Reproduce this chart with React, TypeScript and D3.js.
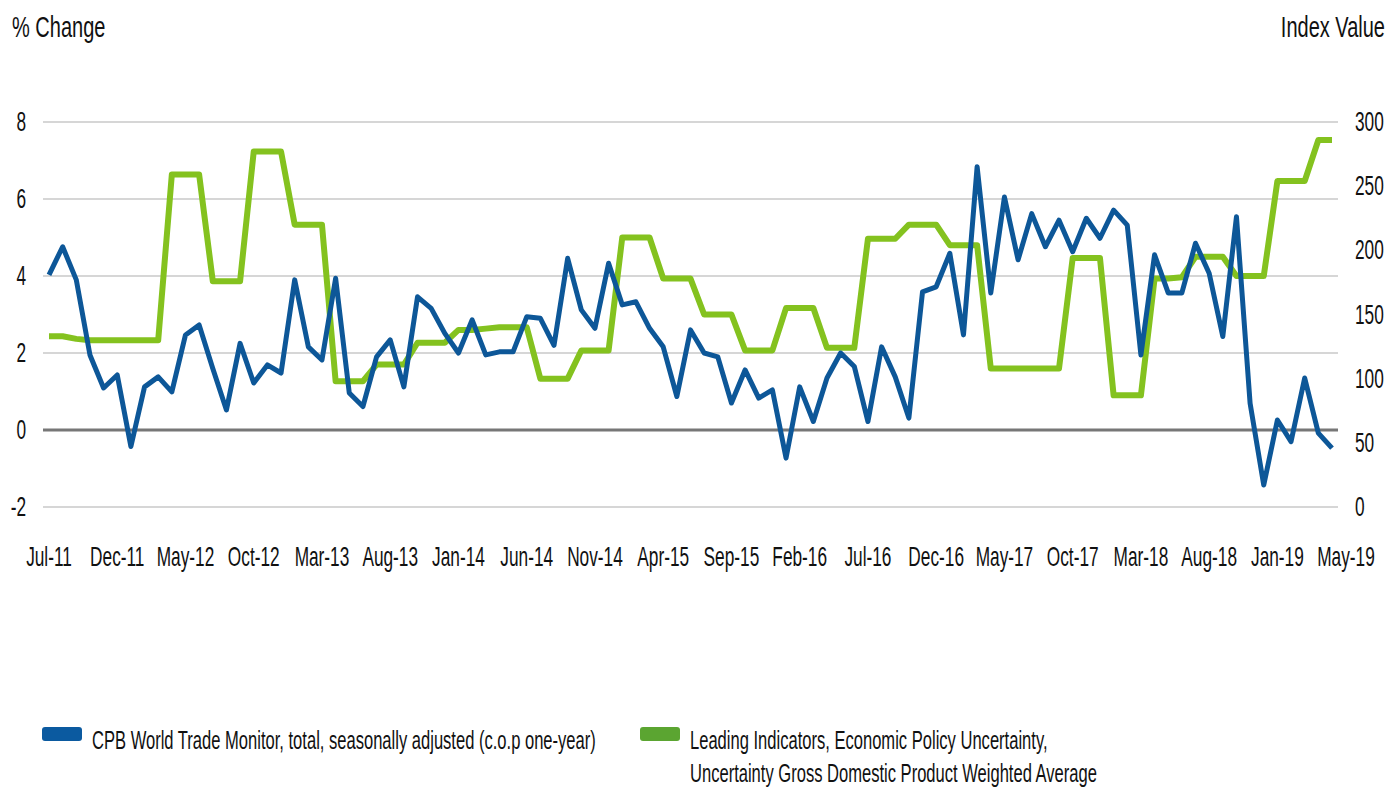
import { useEffect, useRef } from 'react';
import * as d3 from 'd3';

// monthly, Jul-11 .. May-19
const tradeMonitor = [
  4.03, 4.76, 3.9, 1.95, 1.09, 1.43, -0.43, 1.12, 1.38, 0.99,
  2.47, 2.73, 1.6, 0.52, 2.25, 1.22, 1.69, 1.48, 3.9, 2.16,
  1.82, 3.94, 0.96, 0.61, 1.9, 2.34, 1.12, 3.46, 3.16, 2.51,
  2.0, 2.86, 1.95, 2.03, 2.03, 2.94, 2.9, 2.2, 4.46, 3.12,
  2.64, 4.33, 3.25, 3.33, 2.64, 2.16, 0.87, 2.6, 2.0, 1.9,
  0.7, 1.56, 0.83, 1.04, -0.73, 1.12, 0.22, 1.35, 2.0, 1.65,
  0.22, 2.16, 1.38, 0.31, 3.59, 3.72, 4.59, 2.47, 6.84, 3.56,
  6.05, 4.42, 5.62, 4.76, 5.45, 4.63, 5.5, 4.98, 5.71, 5.32,
  1.95, 4.55, 3.56, 3.56, 4.85, 4.07, 2.43, 5.54, 0.69, -1.43,
  0.26, -0.3, 1.35, -0.08, -0.47,
];

const uncertainty = [
  133, 133, 131, 130, 130, 130, 130, 130, 130, 259,
  259, 259, 176, 176, 176, 277, 277, 277, 220, 220,
  220, 98, 98, 98, 111, 111, 111, 128, 128, 128,
  138, 138, 139, 140, 140, 140, 100, 100, 100, 122,
  122, 122, 210, 210, 210, 178, 178, 178, 150, 150,
  150, 122, 122, 122, 155, 155, 155, 124, 124, 124,
  209, 209, 209, 220, 220, 220, 204, 204, 204, 108,
  108, 108, 108, 108, 108, 194, 194, 194, 87, 87,
  87, 178, 178, 179, 195, 195, 195, 180, 180, 180,
  254, 254, 254, 286, 286,
];

const xTickIndex = [0, 5, 10, 15, 20, 25, 30, 35, 40, 45, 50, 55, 60, 65, 70, 75, 80, 85, 90, 94];
const xTickLabels = [
  'Jul-11', 'Dec-11', 'May-12', 'Oct-12', 'Mar-13', 'Aug-13', 'Jan-14', 'Jun-14', 'Nov-14', 'Apr-15',
  'Sep-15', 'Feb-16', 'Jul-16', 'Dec-16', 'May-17', 'Oct-17', 'Mar-18', 'Aug-18', 'Jan-19', 'May-19',
];
const leftTicks = [-2, 0, 2, 4, 6, 8];
const rightTicks = [0, 50, 100, 150, 200, 250, 300];

const BLUE = '#0d5798';
const GREEN = '#84c21f';
const FONT = "'Liberation Sans', Arial, sans-serif";

const App = () => {
  const svgRef = useRef<SVGSVGElement>(null);

  useEffect(() => {
    const svg = d3.select(svgRef.current);
    svg.selectAll('*').remove();

    const x = d3.scaleLinear().domain([0, tradeMonitor.length - 1]).range([49, 1332]);
    const yL = d3.scaleLinear().domain([-2, 8]).range([507, 122]);
    const yR = d3.scaleLinear().domain([0, 300]).range([507, 122]);

    // narrow, tall text like the source image
    const txt = (g, px, py, s, size, anchor = 'start', sx = 0.72, sy = 1.12) =>
      g.append('text')
        .attr('transform', `translate(${px},${py}) scale(${sx},${sy})`)
        .attr('text-anchor', anchor)
        .attr('font-family', FONT)
        .attr('font-size', size)
        .attr('fill', '#111')
        .text(s);

    // grid
    svg.append('g').selectAll('line')
      .data(leftTicks)
      .enter().append('line')
      .attr('x1', 43).attr('x2', 1338)
      .attr('y1', d => yL(d)).attr('y2', d => yL(d))
      .attr('stroke', d => d === 0 ? '#777' : '#d6d6d6')
      .attr('stroke-width', d => d === 0 ? 3 : 2);

    // left axis labels
    const gl = svg.append('g');
    leftTicks.forEach(t => txt(gl, 26, yL(t) + 9, String(t), 24, 'end'));

    // right axis labels
    const gr = svg.append('g');
    rightTicks.forEach(t => txt(gr, 1355, yR(t) + 9, String(t), 24, 'start'));

    // x labels
    const gx = svg.append('g');
    xTickIndex.forEach((idx, k) => {
      const off = k === xTickIndex.length - 1 ? 14 : 0;
      txt(gx, x(idx) + off, 566, xTickLabels[k], 24, 'middle');
    });

    // axis titles
    txt(svg, 12, 37, '% Change', 26, 'start', 0.77);
    txt(svg, 1385, 37, 'Index Value', 26, 'end', 0.77);

    // lines
    const lineL = d3.line<number>().x((_, i) => x(i)).y(d => yL(d));
    const lineR = d3.line<number>().x((_, i) => x(i)).y(d => yR(d));

    svg.append('path')
      .datum(uncertainty)
      .attr('d', lineR)
      .attr('fill', 'none')
      .attr('stroke', GREEN)
      .attr('stroke-width', 6)
      .attr('stroke-linejoin', 'round');

    svg.append('path')
      .datum(tradeMonitor)
      .attr('d', lineL)
      .attr('fill', 'none')
      .attr('stroke', BLUE)
      .attr('stroke-width', 5)
      .attr('stroke-linejoin', 'round');

    // legend
    const lg = svg.append('g');
    lg.append('rect').attr('x', 42).attr('y', 727).attr('width', 40).attr('height', 14)
      .attr('rx', 3).attr('fill', '#0b5aa0');
    txt(lg, 92, 749, 'CPB World Trade Monitor, total, seasonally adjusted (c.o.p one-year)', 23);
    lg.append('rect').attr('x', 640).attr('y', 727).attr('width', 40).attr('height', 14)
      .attr('rx', 3).attr('fill', '#5ba531');
    txt(lg, 690, 749, 'Leading Indicators, Economic Policy Uncertainty,', 23);
    txt(lg, 690, 782, 'Uncertainty Gross Domestic Product Weighted Average', 23);
  }, []);

  return (
    <svg ref={svgRef} width={1399} height={791} style={{ position: 'absolute', left: 0, top: 0, background: '#fff' }} />
  );
};

export default App;
